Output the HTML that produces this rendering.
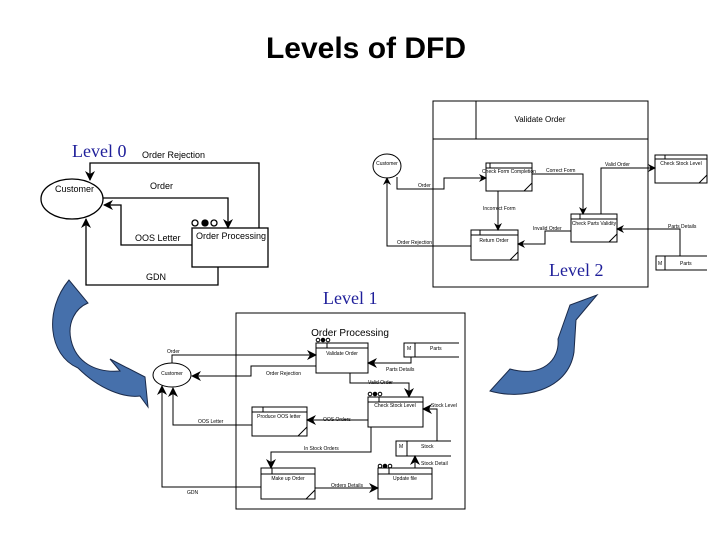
<!DOCTYPE html>
<html><head><meta charset="utf-8"><style>
html,body{margin:0;padding:0;background:#fff;}
svg{display:block;}
text{font-family:"Liberation Sans",sans-serif;fill:#000;}
.s{font-size:5px;}
.m{font-size:9px;}
.lv{font-family:"Liberation Serif",serif;fill:#1f1f9a;font-size:18px;}
</style></head><body>
<svg width="728" height="546" viewBox="0 0 728 546" xmlns="http://www.w3.org/2000/svg">
<defs>
<marker id="a" markerWidth="10" markerHeight="10" refX="9" refY="5" orient="auto" markerUnits="userSpaceOnUse">
<path d="M0,0 L10,5 L0,10 L3,5 Z" fill="#000"/></marker>
<marker id="b" markerWidth="8" markerHeight="8" refX="7" refY="4" orient="auto" markerUnits="userSpaceOnUse">
<path d="M0,0 L8,4 L0,8 L2.5,4 Z" fill="#000"/></marker>
</defs>
<text x="366" y="58" text-anchor="middle" style="font-size:30px;font-weight:bold;">Levels of DFD</text>

<!-- Level 0 -->
<text x="72" y="157" class="lv">Level 0</text>
<g fill="none" stroke="#000" stroke-width="1.3">
<ellipse cx="72" cy="199" rx="31" ry="20" fill="#fff"/>
<rect x="192" y="228" width="76" height="39"/>
<circle cx="195" cy="223" r="3"/><circle cx="205" cy="223" r="3" fill="#000"/><circle cx="214" cy="223" r="3"/>
<path d="M259,228 V163 H90 V180" marker-end="url(#a)"/>
<path d="M103,198 H228 V228" marker-end="url(#a)"/>
<path d="M192,245 H121 V205 H104" marker-end="url(#a)"/>
<path d="M218,267 V285 H86 V219" marker-end="url(#a)"/>
</g>
<text x="55" y="192" class="m">Customer</text>
<text x="142" y="158" class="m">Order Rejection</text>
<text x="150" y="189" class="m">Order</text>
<text x="135" y="241" class="m">OOS Letter</text>
<text x="196" y="239" class="m">Order Processing</text>
<text x="146" y="280" class="m">GDN</text>

<!-- Blue arrows -->
<path d="M69,280 C44,310 48,355 78,368 C100,390 125,398 140,396 L148,407 L145,377 L110,359 L120,371 C95,373 76,362 71,340 C67,322 76,308 88,303 Z" fill="#4670ab" stroke="#1a2a4a" stroke-width="1"/>
<path d="M490,391 C520,400 568,392 574,352 L576,320 L597,295 L570,305 L558,339 C560,360 542,378 510,369 Z" fill="#4670ab" stroke="#1a2a4a" stroke-width="1"/>

<!-- Level 2 -->
<g fill="none" stroke="#000" stroke-width="1">
<rect x="433" y="101" width="215" height="186"/>
<path d="M433,139 H648 M476,101 V139"/>
<ellipse cx="387" cy="166" rx="14" ry="12" fill="#fff"/>
<rect x="486" y="163" width="46" height="28" fill="#fff"/><path d="M486,168 H532 M490,163 V168 M524,191 L532,183"/>
<rect x="571" y="214" width="46" height="28" fill="#fff"/><path d="M571,219 H617 M580,214 V219 M609,242 L617,234"/>
<rect x="471" y="230" width="47" height="30" fill="#fff"/><path d="M471,235 H518 M480,230 V235 M510,260 L518,252"/>
<rect x="655" y="155" width="52" height="28" fill="#fff"/><path d="M655,159 H707 M665,155 V159 M699,183 L707,175"/>
<path d="M707,256 H656 V270 H707 M665,256 V270"/>
<path d="M397,177 V189 H444 V178 H486" marker-end="url(#b)"/>
<path d="M532,174 H583 V214" marker-end="url(#b)"/>
<path d="M601,214 V168 H655" marker-end="url(#b)"/>
<path d="M498,191 V230" marker-end="url(#b)"/>
<path d="M571,231 H545 V244 H518" marker-end="url(#b)"/>
<path d="M680,256 V229 H617" marker-end="url(#b)"/>
<path d="M471,246 H387 V178" marker-end="url(#b)"/>
</g>
<text x="540" y="122" text-anchor="middle" style="font-size:8px;">Validate Order</text>
<text x="387" y="165" class="s" text-anchor="middle">Customer</text>
<text x="509" y="173" class="s" text-anchor="middle">Check Form Completion</text>
<text x="594" y="225" class="s" text-anchor="middle">Check Parts Validity</text>
<text x="494" y="242" class="s" text-anchor="middle">Return Order</text>
<text x="681" y="165" class="s" text-anchor="middle">Check Stock Level</text>
<text x="658" y="265" class="s">M</text><text x="680" y="265" class="s">Parts</text>
<text x="418" y="187" class="s">Order</text>
<text x="546" y="172" class="s">Correct Form</text>
<text x="605" y="166" class="s">Valid Order</text>
<text x="483" y="210" class="s">Incorrect Form</text>
<text x="533" y="230" class="s">Invalid Order</text>
<text x="668" y="228" class="s">Parts Details</text>
<text x="397" y="244" class="s">Order Rejection</text>
<text x="549" y="276" class="lv">Level 2</text>

<!-- Level 1 -->
<text x="323" y="304" class="lv">Level 1</text>
<g fill="none" stroke="#000" stroke-width="1">
<rect x="236" y="313" width="229" height="196"/>
<ellipse cx="172" cy="375" rx="19" ry="12" fill="#fff"/>
<rect x="316" y="343" width="52" height="30" fill="#fff"/><path d="M316,348 H368 M327,343 V348"/>
<circle cx="318" cy="340" r="1.8"/><circle cx="323" cy="340" r="1.8" fill="#000"/><circle cx="328" cy="340" r="1.8"/>
<rect x="368" y="397" width="55" height="30" fill="#fff"/><path d="M368,402 H423 M379,397 V402"/>
<circle cx="370" cy="394" r="1.8"/><circle cx="375" cy="394" r="1.8" fill="#000"/><circle cx="380" cy="394" r="1.8"/>
<rect x="252" y="407" width="55" height="29" fill="#fff"/><path d="M252,412 H307 M263,407 V412 M298,436 L307,427"/>
<rect x="261" y="468" width="54" height="31" fill="#fff"/><path d="M261,474 H315 M272,468 V474 M306,499 L315,490"/>
<rect x="378" y="468" width="54" height="31" fill="#fff"/><path d="M378,474 H432 M389,468 V474"/>
<circle cx="380" cy="466" r="1.8"/><circle cx="385" cy="466" r="1.8" fill="#000"/><circle cx="390" cy="466" r="1.8"/>
<path d="M459,343 H404 V357 H459 M415,343 V357"/>
<path d="M451,441 H396 V456 H451 M407,441 V456"/>
<path d="M172,363 V355 H316" marker-end="url(#a)"/>
<path d="M316,366 H251 V376 H192" marker-end="url(#a)"/>
<path d="M411,357 V363 H368" marker-end="url(#a)"/>
<path d="M350,373 V383 H409 V397" marker-end="url(#a)"/>
<path d="M437,441 V409 H423" marker-end="url(#a)"/>
<path d="M368,420 H307" marker-end="url(#a)"/>
<path d="M252,425 H173 V388" marker-end="url(#a)"/>
<path d="M371,427 V452 H271 V468" marker-end="url(#a)"/>
<path d="M315,488 H378" marker-end="url(#a)"/>
<path d="M415,468 V456" marker-end="url(#a)"/>
<path d="M261,487 H162 V386" marker-end="url(#a)"/>
</g>
<text x="350" y="336" text-anchor="middle" style="font-size:10px;">Order Processing</text>
<text x="172" y="375" class="s" text-anchor="middle">Customer</text>
<text x="342" y="355" class="s" text-anchor="middle">Validate Order</text>
<text x="395" y="407" class="s" text-anchor="middle">Check Stock Level</text>
<text x="279" y="418" class="s" text-anchor="middle">Produce OOS letter</text>
<text x="288" y="480" class="s" text-anchor="middle">Make up Order</text>
<text x="405" y="480" class="s" text-anchor="middle">Update file</text>
<text x="407" y="350" class="s">M</text><text x="430" y="350" class="s">Parts</text>
<text x="399" y="448" class="s">M</text><text x="421" y="448" class="s">Stock</text>
<text x="167" y="353" class="s">Order</text>
<text x="266" y="375" class="s">Order Rejection</text>
<text x="386" y="371" class="s">Parts Details</text>
<text x="368" y="384" class="s">Valid Order</text>
<text x="431" y="407" class="s">Stock Level</text>
<text x="323" y="421" class="s">OOS Orders</text>
<text x="198" y="423" class="s">OOS Letter</text>
<text x="304" y="450" class="s">In Stock Orders</text>
<text x="421" y="465" class="s">Stock Detail</text>
<text x="331" y="487" class="s">Orders Details</text>
<text x="187" y="494" class="s">GDN</text>
</svg>
</body></html>
